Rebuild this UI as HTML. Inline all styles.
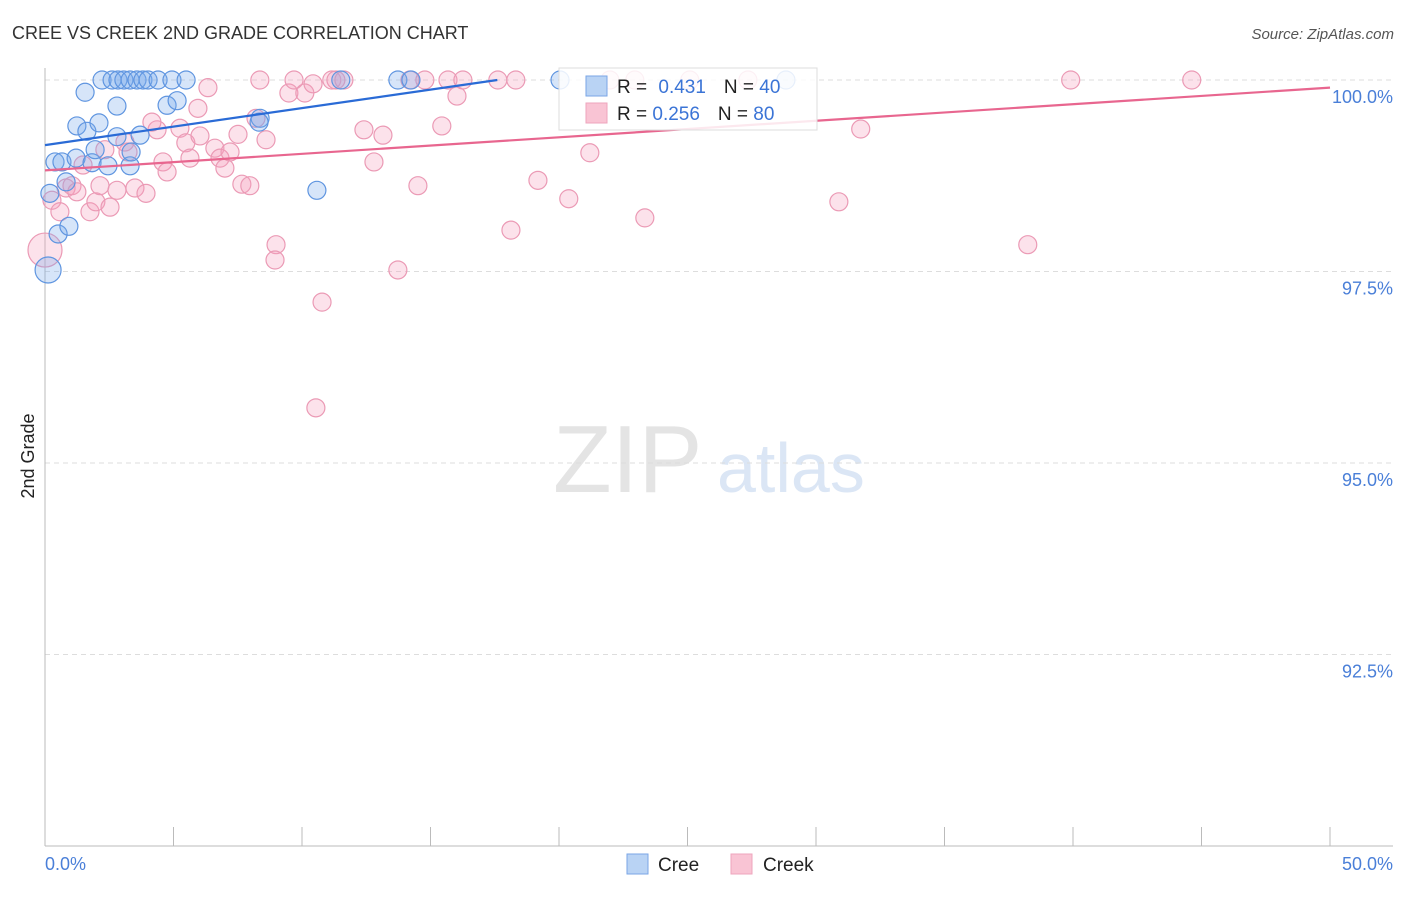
<!DOCTYPE html>
<html><head><meta charset="utf-8"><style>
body{margin:0;background:#fff;font-family:"Liberation Sans",sans-serif}
svg text{font-family:"Liberation Sans",sans-serif}
</style></head><body>
<svg width="1406" height="892" xmlns="http://www.w3.org/2000/svg">
<text x="12" y="39" font-size="18" fill="#333">CREE VS CREEK 2ND GRADE CORRELATION CHART</text>
<text x="1394" y="39" font-size="15" fill="#555" font-style="italic" text-anchor="end">Source: ZipAtlas.com</text>
<g>
<text x="553" y="492" font-size="96" fill="#e4e4e4" font-family="Liberation Serif, serif">ZIP</text>
<text x="717" y="492" font-size="70" fill="#dbe6f5">atlas</text>
</g>
<g id="grid"></g>
<g id="axes"></g>
<g id="points"></g>
<g id="trends"></g>
<g>
<rect x="559" y="68" width="258" height="62" fill="#fff" fill-opacity="0.85" stroke="#ddd"/>
<rect x="586" y="76" width="21" height="20" fill="#b9d3f4" stroke="#7aa6e6"/>
<rect x="586" y="103" width="21" height="20" fill="#f9c4d4" stroke="#eea5bd"/>
<text x="617" y="93" font-size="19" fill="#222">R = <tspan fill="#3b74d6" dx="6">0.431</tspan><tspan dx="18">N = </tspan><tspan fill="#3b74d6">40</tspan></text>
<text x="617" y="120" font-size="19" fill="#222">R = <tspan fill="#3b74d6">0.256</tspan><tspan dx="18">N = </tspan><tspan fill="#3b74d6">80</tspan></text>
</g>
<g>
<rect x="627" y="854" width="21" height="20" fill="#b9d3f4" stroke="#7aa6e6"/>
<text x="658" y="871" font-size="19" fill="#222">Cree</text>
<rect x="731" y="854" width="21" height="20" fill="#f9c4d4" stroke="#eea5bd"/>
<text x="763" y="871" font-size="19" fill="#222">Creek</text>
</g>
<text transform="translate(34,456) rotate(-90)" font-size="18" fill="#222" text-anchor="middle">2nd Grade</text>
</svg>
<script>
const yTicks=[100,97.5,95,92.5];
const yTickLabels=["100.0%","97.5%","95.0%","92.5%"];
const xEndLabels=["0.0%","50.0%"];
const creeX=[0.12,0.51,0.93,0.19,0.82,0.39,0.66,1.21,1.83,2.45,3.31,1.95,1.24,1.63,2.10,2.80,3.35,3.70,1.56,2.80,4.75,5.14,2.22,2.61,2.84,3.07,3.31,3.58,3.81,4.01,4.40,4.94,5.49,8.37,8.33,10.58,11.51,13.73,14.24,20.04,28.83];
const creeY=[97.52,97.99,98.09,98.52,98.67,98.93,98.93,98.98,98.92,98.88,98.88,99.09,99.40,99.33,99.44,99.26,99.06,99.28,99.84,99.66,99.67,99.73,100,100,100,100,100,100,100,100,100,100,100,99.50,99.45,98.56,100,100,100,100,100];
const creekX=[0,0.27,0.58,0.82,1.05,1.24,1.75,1.98,2.14,2.53,2.80,3.50,3.93,1.48,2.33,3.11,3.23,4.36,4.16,4.59,4.75,5.25,5.48,5.64,6.03,5.95,6.34,6.61,6.81,7.00,7.20,7.51,7.66,7.97,8.21,8.60,8.36,8.99,8.95,9.49,9.69,10.11,10.43,10.78,10.54,11.16,11.32,11.63,12.41,12.80,13.15,13.73,14.20,14.51,14.78,15.44,15.68,16.03,16.26,17.62,18.13,18.32,19.18,20.38,21.20,23.34,21.98,22.95,25.09,27.35,30.89,31.74,38.24,39.91,44.62];
const creekY=[97.78,98.43,98.28,98.59,98.62,98.54,98.28,98.41,98.62,98.34,98.56,98.59,98.52,98.89,99.09,99.19,99.06,99.35,99.45,98.93,98.80,99.37,99.18,98.98,99.27,99.63,99.90,99.11,98.98,98.85,99.06,99.29,98.64,98.62,99.50,99.22,100,97.85,97.65,99.83,100,99.83,99.95,97.10,95.72,100,100,100,99.35,98.93,99.28,97.52,100,98.62,100,99.40,100,99.79,100,100,98.04,100,98.69,98.45,99.05,98.20,100,100,100,100,98.41,99.36,97.85,100,100];
const creeTrendX=[0,17.6];
const creeTrendY=[99.15,100.0];
const creekTrendX=[0,50];
const creekTrendY=[98.82,99.9];
const bigCree=[0];const bigCreek=[0];
const NS="http://www.w3.org/2000/svg";
const X=v=>45+v/50*1285;
const Y=v=>80+(100-v)/2.5*191.5;
function mk(tag,attrs,parent){const e=document.createElementNS(NS,tag);for(const k in attrs)e.setAttribute(k,attrs[k]);document.getElementById(parent).appendChild(e);return e;}
yTicks.forEach((t,i)=>{
 const l=mk('line',{x1:45,x2:1393,y1:Y(t),y2:Y(t),stroke:'#ddd','stroke-dasharray':'5,4'},'grid');
 
 
 const tx=mk('text',{x:1393,y:Y(t)+23,'font-size':18,fill:'#4a7fd8','text-anchor':'end'},'grid');
 tx.textContent=yTickLabels[i];
 
 
});
let a=mk('line',{x1:45,x2:45,y1:68,y2:846,stroke:'#bbb'},'axes');


a=mk('line',{x1:45,x2:1393,y1:846,y2:846,stroke:'#bbb'},'axes');


for(let i=0;i<=10;i++){
 const t=mk('line',{x1:X(i*5),x2:X(i*5),y1:827,y2:846,stroke:'#bbb'},'axes');
 
 
}
[[0,'start',45],[1,'end',1393]].forEach(([i,anc,x])=>{
 const t=mk('text',{x:x,y:870,'font-size':18,fill:'#4a7fd8','text-anchor':anc},'axes');
 t.textContent=xEndLabels[i];
 
 
});
creekX.forEach((v,i)=>{
 const c=mk('circle',{cx:X(v),cy:Y(creekY[i]),r:bigCreek.includes(i)?17:9,fill:'rgba(244,160,188,0.3)',stroke:'#eb9ab5','stroke-width':1.2},'points');
 
 
});
creeX.forEach((v,i)=>{
 const c=mk('circle',{cx:X(v),cy:Y(creeY[i]),r:bigCree.includes(i)?13:9,fill:'rgba(120,170,235,0.3)',stroke:'#5f95e0','stroke-width':1.2},'points');
 
 
});
let tl=mk('line',{x1:X(creekTrendX[0]),y1:Y(creekTrendY[0]),x2:X(creekTrendX[1]),y2:Y(creekTrendY[1]),stroke:'#e8668f','stroke-width':2.2},'trends');


tl=mk('line',{x1:X(creeTrendX[0]),y1:Y(creeTrendY[0]),x2:X(creeTrendX[1]),y2:Y(creeTrendY[1]),stroke:'#2a6bd6','stroke-width':2.2},'trends');


</script>
</body></html>
